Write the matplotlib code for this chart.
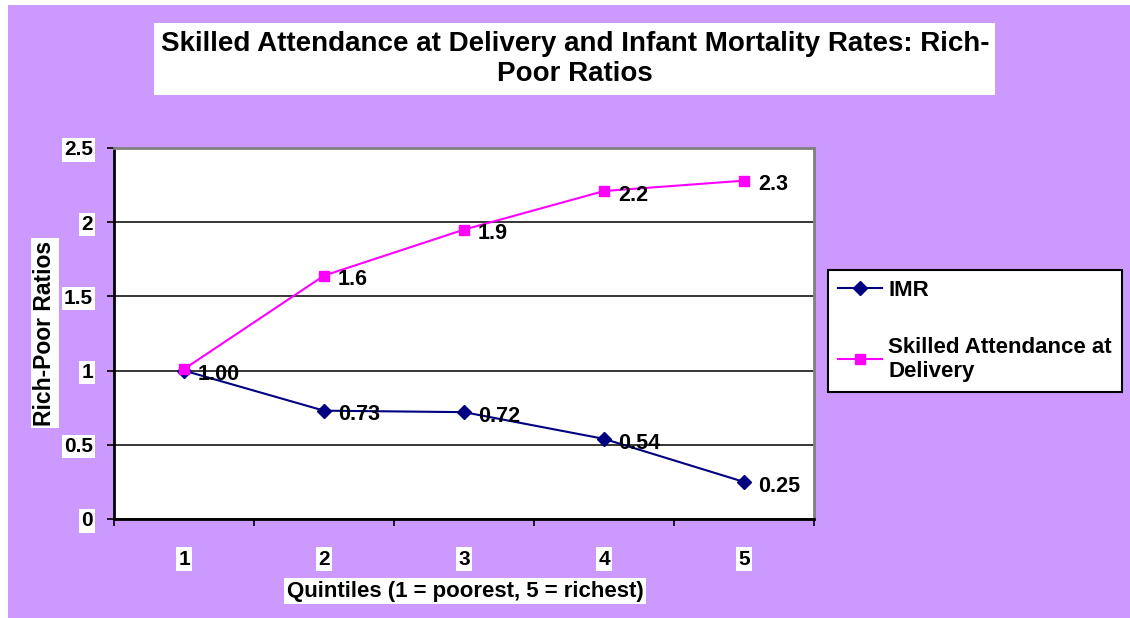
import matplotlib
matplotlib.use('Agg')
import matplotlib.pyplot as plt
from matplotlib.patches import Rectangle

plt.rcParams['font.family'] = ['Liberation Sans', 'DejaVu Sans']
plt.rcParams['font.weight'] = 'bold'

quintiles = [1, 2, 3, 4, 5]
imr = [1.00, 0.73, 0.72, 0.54, 0.25]
imr_labels = ['1.00', '0.73', '0.72', '0.54', '0.25']
skilled = [1.01, 1.64, 1.95, 2.21, 2.28]
skilled_labels = ['', '1.6', '1.9', '2.2', '2.3']
yticks = [0, 0.5, 1, 1.5, 2, 2.5]
ytick_labels = ['0', '0.5', '1', '1.5', '2', '2.5']

purple = '#CC99FF'
navy = '#000080'
magenta = '#FF00FF'
white_box = dict(facecolor='white', edgecolor='none', boxstyle='square,pad=0.1')

fig = plt.figure(figsize=(11.3, 6.18), dpi=100, facecolor='white')
fig.patches.append(Rectangle((8 / 1130, 0), 1, 1 - 5 / 618, transform=fig.transFigure,
                             facecolor=purple, edgecolor='none', zorder=-10))
# white title box
fig.patches.append(Rectangle((154 / 1130, 1 - 95 / 618), 841 / 1130, 72 / 618,
                             transform=fig.transFigure, facecolor='white',
                             edgecolor='none', zorder=-5))

ax = fig.add_axes([114 / 1130, 99 / 618, 700 / 1130, 371 / 618])
ax.set_facecolor('white')

ax.plot(quintiles, imr, color=navy, lw=1.5, marker='D', ms=7, label='IMR', zorder=3)
ax.plot(quintiles, skilled, color=magenta, lw=1.5, marker='s', ms=7.5,
        mfc=magenta, mec=magenta, label='Skilled Attendance at\nDelivery', zorder=4)

for x, y, t in zip(quintiles, imr, imr_labels):
    ax.annotate(t, (x, y), xytext=(10, -3), textcoords='offset points',
                ha='left', va='center', fontsize=15.5, fontweight='bold', zorder=5)
for x, y, t in zip(quintiles, skilled, skilled_labels):
    if t:
        ax.annotate(t, (x, y), xytext=(10, -3), textcoords='offset points',
                    ha='left', va='center', fontsize=15.5, fontweight='bold', zorder=5)

ax.set_xlim(0.5, 5.5)
ax.set_ylim(0, 2.5)

ax.set_yticks(yticks)
ax.set_yticklabels(ytick_labels, fontsize=15, fontweight='bold')
for lbl in ax.get_yticklabels():
    lbl.set_bbox(white_box)
ax.tick_params(axis='y', direction='out', length=5, width=1.2, pad=10)
ax.yaxis.grid(True, color='black', lw=1.1)
ax.set_axisbelow(True)

ax.set_xticks([0.5, 1.5, 2.5, 3.5, 4.5, 5.5])
ax.set_xticklabels([])
ax.tick_params(axis='x', which='major', direction='out', length=5, width=1.2)
ax.set_xticks(quintiles, minor=True)
ax.set_xticklabels([str(q) for q in quintiles], minor=True, fontsize=15, fontweight='bold')
ax.tick_params(axis='x', which='minor', length=0, pad=22)
for lbl in ax.get_xticklabels(minor=True):
    lbl.set_bbox(white_box)

for s in ['left', 'bottom']:
    ax.spines[s].set_color('black')
    ax.spines[s].set_linewidth(2)
for s in ['top', 'right']:
    ax.spines[s].set_color('#808080')
    ax.spines[s].set_linewidth(2)

fig.text(575 / 1130, 1 - 59 / 618,
         'Skilled Attendance at Delivery and Infant Mortality Rates: Rich-\nPoor Ratios',
         ha='center', va='center', fontsize=20, fontweight='bold', linespacing=1.2)

fig.text(45 / 1130, 1 - 333 / 618, 'Rich-Poor Ratios', rotation=90, ha='center', va='center',
         fontsize=16.5, fontweight='bold', bbox=white_box)
fig.text(465 / 1130, 1 - 591 / 618, 'Quintiles (1 = poorest, 5 = richest)', ha='center',
         va='center', fontsize=16, fontweight='bold', bbox=white_box)

leg = fig.legend(loc='upper left', bbox_to_anchor=(828 / 1130, 1 - 270 / 618),
                 frameon=True, fancybox=False, edgecolor='black', framealpha=1,
                 prop={'size': 16, 'weight': 'bold'}, labelspacing=1.6,
                 handlelength=2.0, handletextpad=0.25, borderpad=0.45, borderaxespad=0)
leg.get_frame().set_linewidth(1.5)

fig.savefig('out.png', dpi=100, facecolor='white')
